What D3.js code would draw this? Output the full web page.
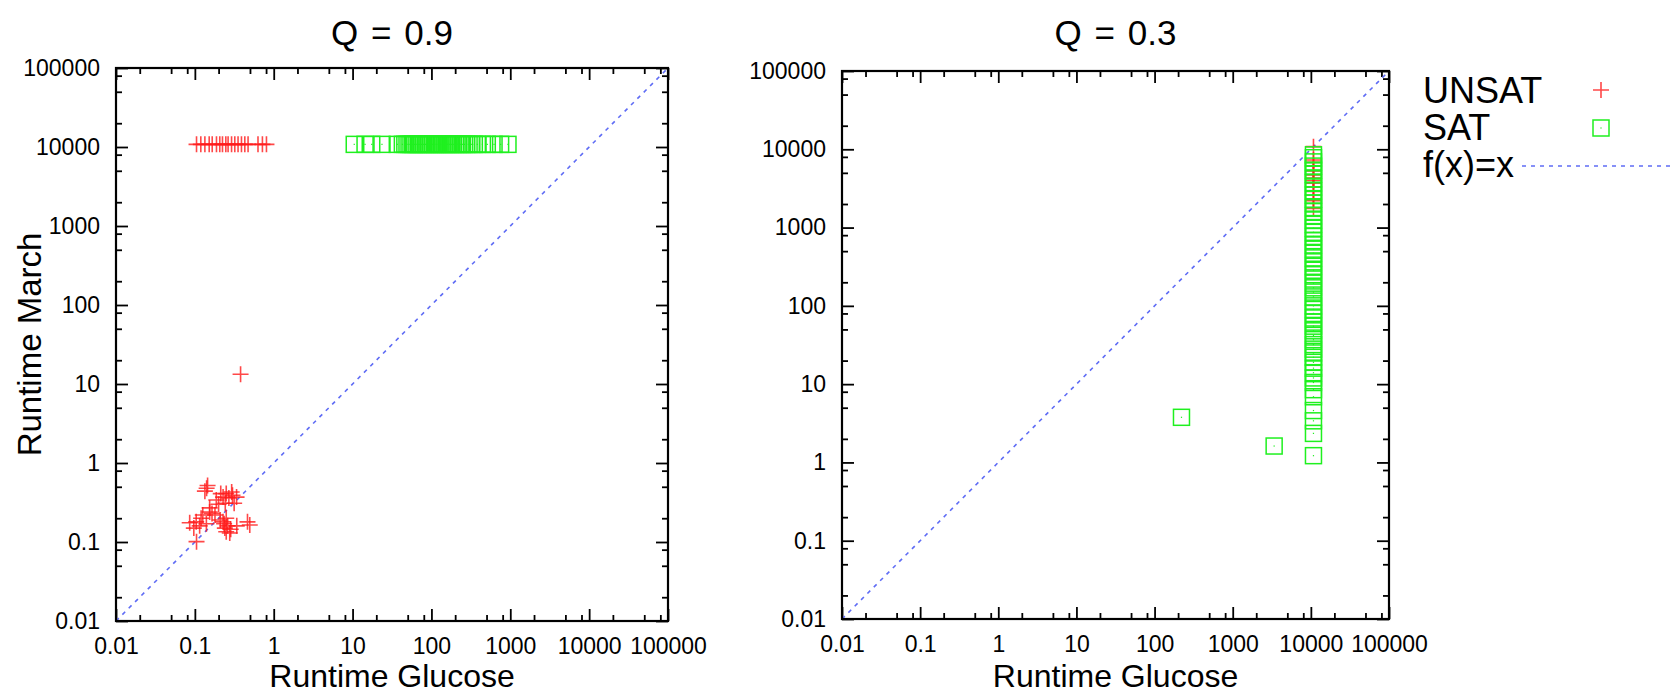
<!DOCTYPE html>
<html>
<head>
<meta charset="utf-8">
<script src="https://cdn.jsdelivr.net/npm/d3@7"></script>
<style>
  html, body { margin: 0; padding: 0; background: #fff; }
  svg { display: block; }
  text { font-family: "Liberation Sans", Arial, Helvetica, sans-serif; fill: #000; }
</style>
</head>
<body>
<svg id="chart" width="1674" height="694"></svg>
<script>
// ---------------- data ----------------
const tickValues = [0.01, 0.1, 1, 10, 100, 1000, 10000, 100000];
const tickLabels = ["0.01", "0.1", "1", "10", "100", "1000", "10000", "100000"];
const minorTickValues = [0.02, 0.05, 0.08, 0.2, 0.5, 0.8, 2, 5, 8, 20, 50, 80,
                         200, 500, 800, 2000, 5000, 8000, 20000, 50000, 80000];
const axisDomain = [0.01, 100000];

const titles = ["Q = 0.9", "Q = 0.3"];
const xLabel = "Runtime Glucose";
const yLabel = "Runtime March";
const seriesNames = ["UNSAT", "SAT", "f(x)=x"];

// Q = 0.9 : UNSAT points [glucose, march]
const unsatQ09 = [
  [0.105, 10800], [0.119, 10800], [0.134, 10800], [0.152, 10800], [0.166, 10800],
  [0.188, 10800], [0.207, 10800], [0.224, 10800], [0.247, 10800], [0.264, 10800],
  [0.292, 10800], [0.321, 10800], [0.353, 10800], [0.39, 10800], [0.43, 10800],
  [0.473, 10800], [0.632, 10800], [0.719, 10800], [0.809, 10800],
  [0.38, 13.3],
  [0.141, 0.48], [0.134, 0.44], [0.145, 0.52], [0.213, 0.41], [0.293, 0.43],
  [0.315, 0.31], [0.243, 0.31], [0.154, 0.24], [0.126, 0.22], [0.104, 0.18],
  [0.086, 0.175], [0.097, 0.15], [0.105, 0.101], [0.228, 0.18], [0.26, 0.16],
  [0.277, 0.13], [0.34, 0.16], [0.465, 0.18], [0.154, 0.27], [0.187, 0.34],
  [0.228, 0.37], [0.25, 0.2], [0.18, 0.22], [0.27, 0.36], [0.12, 0.2],
  [0.14, 0.17], [0.338, 0.37], [0.24, 0.15], [0.25, 0.135], [0.497, 0.164],
  [0.25, 0.41], [0.165, 0.23], [0.21, 0.19], [0.3, 0.39], [0.235, 0.17],
  [0.115, 0.16], [0.285, 0.145], [0.2, 0.3]
];
// Q = 0.9 : SAT points [glucose, march]
const satQ09 = [
  [10.5, 10800], [14.4, 10800], [17.5, 10800], [23.6, 10800], [36.9, 10800],
  [42.8, 10800], [46, 10800], [49, 10800], [52, 10800], [55, 10800],
  [58, 10800], [61, 10800], [64, 10800], [68, 10800], [71, 10800],
  [75, 10800], [79, 10800], [84, 10800], [88, 10800], [93, 10800],
  [98, 10800], [104, 10800], [110, 10800], [116, 10800], [122, 10800],
  [129, 10800], [137, 10800], [145, 10800], [153, 10800], [161, 10800],
  [171, 10800], [181, 10800], [192, 10800], [204, 10800], [217, 10800],
  [231, 10800], [246, 10800], [262, 10800], [280, 10800], [300, 10800],
  [325, 10800], [350, 10800], [382, 10800], [443, 10800], [511, 10800],
  [622, 10800], [754, 10800], [935, 10800]
];
// Q = 0.3 : UNSAT points [glucose, march]
const unsatQ03 = [
  [10800, 10800], [10800, 7300], [10800, 6800], [10800, 6100], [10800, 5300],
  [10800, 4700], [10800, 4300], [10800, 4000], [10800, 3700], [10800, 3300],
  [10800, 2900], [10800, 2300], [10800, 2200], [10800, 1750]
];
// Q = 0.3 : SAT points [glucose, march]
const satQ03 = [
  [221, 3.77], [3390, 1.62],
  [10800, 1.22], [10800, 2.35], [10800, 3.4], [10800, 4.6], [10800, 6.9],
  [10800, 8.5], [10800, 10.5], [10800, 12], [10800, 14], [10800, 16],
  [10800, 19], [10800, 22], [10800, 25], [10800, 28], [10800, 32],
  [10800, 37], [10800, 42], [10800, 48], [10800, 55], [10800, 62],
  [10800, 70], [10800, 80], [10800, 90], [10800, 100], [10800, 115],
  [10800, 130], [10800, 150], [10800, 170], [10800, 195], [10800, 220],
  [10800, 250], [10800, 285], [10800, 320], [10800, 365], [10800, 410],
  [10800, 470], [10800, 530], [10800, 600], [10800, 680], [10800, 770],
  [10800, 870], [10800, 980], [10800, 1100], [10800, 1250], [10800, 1420],
  [10800, 1600], [10800, 1800], [10800, 2050], [10800, 2300], [10800, 2600],
  [10800, 2950], [10800, 3300], [10800, 3750], [10800, 4200], [10800, 4800],
  [10800, 5400], [10800, 6100], [10800, 6900], [10800, 7800], [10800, 8500]
];

// ---------------- drawing ----------------
const svg = d3.select("#chart");
const RED = "#ff1a1a", GREEN = "#1ff01f", BLUE = "#5f6cf5";
const MARK = 8; // half-size of markers

const panels = [
  { box: { x0: 116, x1: 668, y0: 68, y1: 621 }, title: titles[0], unsat: unsatQ09, sat: satQ09, yLab: true },
  { box: { x0: 842, x1: 1389, y0: 71, y1: 619 }, title: titles[1], unsat: unsatQ03, sat: satQ03, yLab: false }
];

function plus(g, pts, x, y) {
  const p = g.append("g").attr("stroke", RED).attr("stroke-width", 1.6).attr("stroke-opacity", 0.8);
  pts.forEach(d => {
    const cx = x(d[0]), cy = y(d[1]);
    p.append("path").attr("d", `M${cx - MARK},${cy}H${cx + MARK}M${cx},${cy - MARK}V${cy + MARK}`);
  });
}
function squares(g, pts, x, y) {
  const s = g.append("g");
  pts.forEach(d => {
    const cx = x(d[0]), cy = y(d[1]);
    s.append("rect").attr("x", cx - MARK).attr("y", cy - MARK)
      .attr("width", 2 * MARK).attr("height", 2 * MARK)
      .attr("fill", "none").attr("stroke", GREEN).attr("stroke-width", 1.5);
    s.append("rect").attr("x", cx - 0.6).attr("y", cy - 0.6).attr("width", 1.2).attr("height", 1.2)
      .attr("fill", GREEN);
  });
}

panels.forEach(pn => {
  const b = pn.box;
  const x = d3.scaleLog().domain(axisDomain).range([b.x0, b.x1]);
  const y = d3.scaleLog().domain(axisDomain).range([b.y1, b.y0]);
  const g = svg.append("g");
  const fmt = (d) => tickLabels[tickValues.indexOf(d)];

  // minor ticks, all four sides
  const minorAxes = [
    [d3.axisBottom(x), `translate(0,${b.y1})`],
    [d3.axisTop(x), `translate(0,${b.y0})`],
    [d3.axisLeft(y), `translate(${b.x0},0)`],
    [d3.axisRight(y), `translate(${b.x1},0)`]
  ];
  minorAxes.forEach(([ax, tr]) => {
    g.append("g").attr("transform", tr)
      .call(ax.tickValues(minorTickValues).tickSizeInner(-6).tickSizeOuter(0).tickFormat(""))
      .call(s => s.select(".domain").remove())
      .call(s => s.selectAll("line").attr("stroke", "#000").attr("stroke-width", 1.8));
  });
  // major ticks mirrored
  [[d3.axisTop(x), `translate(0,${b.y0})`], [d3.axisRight(y), `translate(${b.x1},0)`]].forEach(([ax, tr]) => {
    g.append("g").attr("transform", tr)
      .call(ax.tickValues(tickValues).tickSizeInner(-12).tickSizeOuter(0).tickFormat(""))
      .call(s => s.select(".domain").remove())
      .call(s => s.selectAll("line").attr("stroke", "#000").attr("stroke-width", 1.8));
  });
  // major ticks with labels
  g.append("g").attr("transform", `translate(0,${b.y1})`)
    .call(d3.axisBottom(x).tickValues(tickValues).tickFormat(fmt).tickSizeInner(-12).tickSizeOuter(0).tickPadding(17))
    .call(s => s.select(".domain").remove())
    .call(s => s.selectAll("line").attr("stroke", "#000").attr("stroke-width", 1.8))
    .call(s => s.selectAll("text").attr("font-size", 23).attr("fill", "#000")
      .attr("font-family", '"Liberation Sans", Arial, sans-serif'));
  g.append("g").attr("transform", `translate(${b.x0},0)`)
    .call(d3.axisLeft(y).tickValues(tickValues).tickFormat(fmt).tickSizeInner(-12).tickSizeOuter(0).tickPadding(16))
    .call(s => s.select(".domain").remove())
    .call(s => s.selectAll("line").attr("stroke", "#000").attr("stroke-width", 1.8))
    .call(s => s.selectAll("text").attr("font-size", 23).attr("fill", "#000")
      .attr("font-family", '"Liberation Sans", Arial, sans-serif'));

  // diagonal f(x)=x
  const diag = d3.line().x(d => x(d)).y(d => y(d));
  g.append("path").attr("d", diag(axisDomain)).attr("fill", "none")
    .attr("stroke", BLUE).attr("stroke-width", 1.6).attr("stroke-dasharray", "4,5");

  // points
  plus(g, pn.unsat, x, y);
  squares(g, pn.sat, x, y);

  // frame
  g.append("rect").attr("x", b.x0).attr("y", b.y0).attr("width", b.x1 - b.x0).attr("height", b.y1 - b.y0)
    .attr("fill", "none").attr("stroke", "#000").attr("stroke-width", 2.2);

  // titles & labels
  const cx = (b.x0 + b.x1) / 2;
  g.append("text").attr("x", cx).attr("y", 45).attr("text-anchor", "middle")
    .attr("font-size", 35).attr("word-spacing", 3).text(pn.title);
  g.append("text").attr("x", cx).attr("y", 687).attr("text-anchor", "middle")
    .attr("font-size", 32).text(xLabel);
  if (pn.yLab) {
    g.append("text").attr("transform", `translate(41,${(b.y0 + b.y1) / 2}) rotate(-90)`)
      .attr("text-anchor", "middle").attr("font-size", 33).text(yLabel);
  }
});

// legend
const lg = svg.append("g");
const legX = 1423, legMarkX = 1601;
const legBase = [103, 140, 177];
seriesNames.forEach((n, i) => {
  lg.append("text").attr("x", legX).attr("y", legBase[i]).attr("font-size", 36).text(n);
});
lg.append("path").attr("d", `M${legMarkX - MARK},90H${legMarkX + MARK}M${legMarkX},${90 - MARK}V${90 + MARK}`)
  .attr("stroke", RED).attr("stroke-width", 1.6).attr("stroke-opacity", 0.8);
lg.append("rect").attr("x", legMarkX - MARK).attr("y", 128 - MARK).attr("width", 2 * MARK).attr("height", 2 * MARK)
  .attr("fill", "none").attr("stroke", GREEN).attr("stroke-width", 1.5);
lg.append("rect").attr("x", legMarkX - 0.6).attr("y", 128 - 0.6).attr("width", 1.2).attr("height", 1.2).attr("fill", GREEN);
lg.append("path").attr("d", "M1522,166H1674").attr("stroke", BLUE).attr("stroke-width", 1.6)
  .attr("stroke-dasharray", "4,5");
</script>
</body>
</html>
